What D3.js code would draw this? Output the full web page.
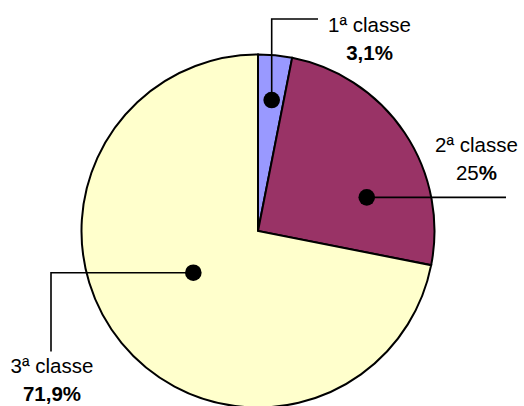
<!DOCTYPE html>
<html>
<head>
<meta charset="utf-8">
<script src="https://cdn.jsdelivr.net/npm/d3@7"></script>
<style>
  html, body { margin: 0; padding: 0; background: #fff; }
  svg { display: block; }
  text { font-family: "Liberation Sans", Arial, sans-serif; font-size: 20.5px; fill: #000; }
</style>
</head>
<body>
<svg id="chart" width="524" height="406"></svg>
<script>
// Passenger share by class (%)
const categories = ["1ª classe", "2ª classe", "3ª classe"];
const values = [3.1, 25, 71.9];
const valueLabels = ["3,1", "25", "71,9"];

// Slice fills
const colors = ["#9999FF", "#993366", "#FFFFCC"];

// Label callouts: marker angle (deg, clockwise from 12 o'clock), marker radius fraction,
// leader path and text placement
const callouts = [
  { angle: 5.97,  frac: 0.746, route: "up-right",  elbow: 19,  end: 318, tx: 369.5, ty: 31.5, numBold: true },
  { angle: 72.8,  frac: 0.645, route: "right",     elbow: null, end: 506, tx: 476.5, ty: 152, numBold: false },
  { angle: 237.2, frac: 0.436, route: "left-down", elbow: 51,  end: 351.5, tx: 52, ty: 372.5, numBold: true }
];

const cx = 258, cy = 231, radius = 176.5;
const svg = d3.select("#chart");
const g = svg.append("g").attr("transform", `translate(${cx},${cy})`);

const pie = d3.pie().sort(null).value(d => d).startAngle(0).endAngle(2 * Math.PI);
const arc = d3.arc().innerRadius(0).outerRadius(radius);
const arcsData = pie(values);

g.selectAll("path.slice")
  .data(arcsData)
  .join("path")
  .attr("class", "slice")
  .attr("d", arc)
  .attr("fill", (d, i) => colors[i])
  .attr("stroke", "#000")
  .attr("stroke-width", 2)
  .attr("stroke-linejoin", "miter");

// Leader lines and markers
const lines = svg.append("g");
callouts.forEach((c, i) => {
  const a = c.angle * Math.PI / 180;
  const px = cx + Math.sin(a) * radius * c.frac;
  const py = cy - Math.cos(a) * radius * c.frac;
  let pts;
  if (c.route === "up-right") pts = [[px, py], [px, c.elbow], [c.end, c.elbow]];
  else if (c.route === "right") pts = [[px, py], [c.end, py]];
  else pts = [[px, py], [c.elbow, py], [c.elbow, c.end]];
  lines.append("path")
    .attr("d", d3.line()(pts))
    .attr("fill", "none")
    .attr("stroke", "#000")
    .attr("stroke-width", 1.6);
  lines.append("circle")
    .attr("cx", px).attr("cy", py).attr("r", 8.3)
    .attr("fill", "#000");

  const t = svg.append("g");
  t.append("text")
    .attr("x", c.tx).attr("y", c.ty)
    .attr("text-anchor", "middle")
    .text(categories[i]);
  const v = t.append("text")
    .attr("x", c.tx).attr("y", c.ty + 28)
    .attr("text-anchor", "middle");
  v.append("tspan")
    .attr("font-weight", c.numBold ? "bold" : "normal")
    .text(valueLabels[i]);
  v.append("tspan")
    .attr("font-weight", "bold")
    .text("%");
});
</script>
</body>
</html>
